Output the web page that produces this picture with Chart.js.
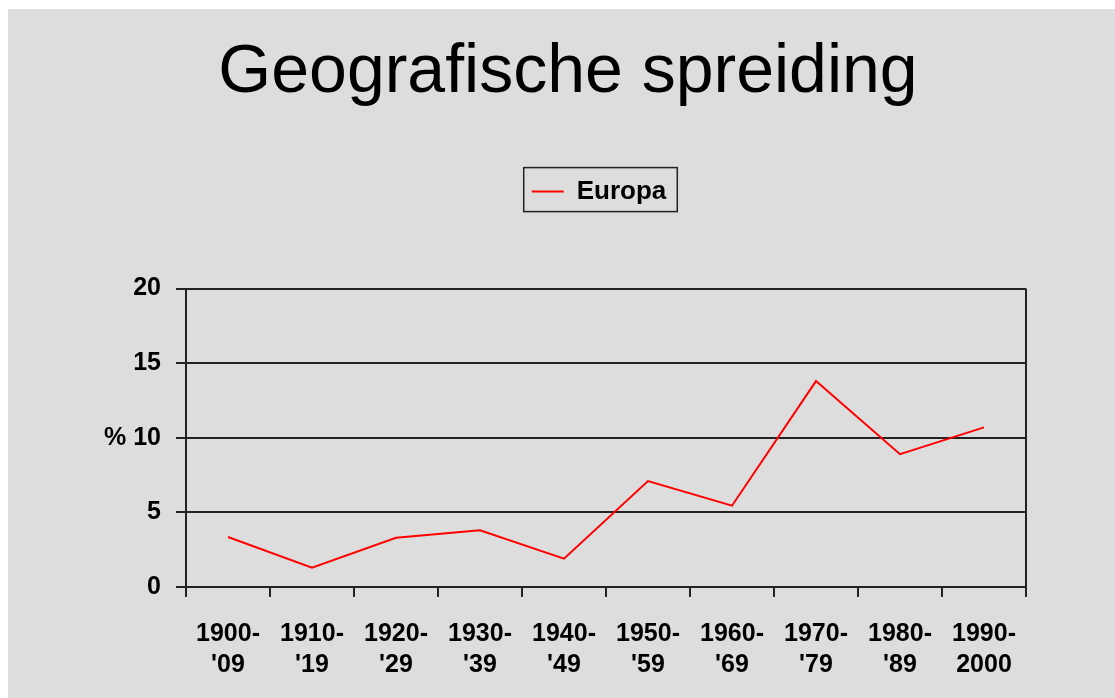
<!DOCTYPE html>
<html>
<head>
<meta charset="UTF-8">
<title>Geografische spreiding</title>
<script src="https://cdn.jsdelivr.net/npm/chart.js"></script>
<style>
  html, body { margin: 0; overflow: hidden; background-color: #ffffff; font-family: 'Liberation Sans', Arial, sans-serif; }
  .slide {
    position: absolute;
    left: 8px;
    top: 9px;
    width: 1107px;
    height: 693px;
    background-color: #dddddd;
  }
</style>
</head>
<body>
<div class="slide"><canvas id="chart"></canvas></div>
<script>
const periods = [
  ['1900-', "'09"], ['1910-', "'19"], ['1920-', "'29"], ['1930-', "'39"], ['1940-', "'49"],
  ['1950-', "'59"], ['1960-', "'69"], ['1970-', "'79"], ['1980-', "'89"], ['1990-', '2000']
];
const europa = [3.35, 1.3, 3.3, 3.8, 1.9, 7.1, 5.45, 13.8, 8.9, 10.7];
const yTicks = [0, 5, 10, 15, 20];

// legend gets a frame and some extra room below it, like the old Excel chart
const legendFrame = {
  id: 'legendFrame',
  afterInit(chart) {
    const fit = chart.legend.fit;
    chart.legend.fit = function () {
      fit.call(this);
      this.height += 74;
    };
  },
  afterLayout(chart) {
    // nudge title and legend to where the slide has them
    chart.titleBlock.left += 5;
    chart.titleBlock.right += 5;
    chart.legend.left -= 7;
    chart.legend.right -= 7;
  },
  afterDraw(chart) {
    const hb = chart.legend.legendHitBoxes[0];
    if (!hb) return;
    const ctx = chart.ctx;
    ctx.save();
    ctx.strokeStyle = '#222';
    ctx.lineWidth = 1.5;
    ctx.strokeRect(hb.left - 8, hb.top - 11, hb.width + 19, hb.height + 18);
    // right edge of the plot box
    const a = chart.chartArea;
    ctx.lineWidth = 2;
    ctx.beginPath();
    ctx.moveTo(a.right, a.top);
    ctx.lineTo(a.right, a.bottom);
    ctx.stroke();
    ctx.restore();
  }
};

new Chart(document.getElementById('chart').getContext('2d'), {
  type: 'line',
  data: {
    labels: periods,
    datasets: [{
      label: 'Europa',
      data: europa,
      borderColor: '#ff0000',
      backgroundColor: '#ff0000',
      borderWidth: 2,
      pointRadius: 0,
      tension: 0
    }]
  },
  options: {
    responsive: true,
    maintainAspectRatio: false,
    animation: false,
    layout: { padding: { left: 92, right: 89, top: 0, bottom: 0 } },
    plugins: {
      title: {
        display: true,
        text: 'Geografische spreiding',
        color: '#000',
        font: { family: 'Liberation Sans', size: 68, weight: 'normal' },
        padding: { top: 23, bottom: 55 }
      },
      legend: {
        fullSize: false,
        labels: {
          color: '#000',
          font: { family: 'Liberation Sans', size: 26, weight: 'bold' },
          usePointStyle: true,
          pointStyle: 'line',
          pointStyleWidth: 32,
          padding: 10
        }
      },
      tooltip: { enabled: false }
    },
    scales: {
      x: {
        offset: true,
        grid: { offset: true, drawOnChartArea: false, color: '#222', lineWidth: 2, tickLength: 10 },
        border: { color: '#222', width: 2 },
        ticks: {
          color: '#000',
          maxRotation: 0,
          autoSkip: false,
          padding: 22,
          font: { family: 'Liberation Sans', size: 25, weight: 'bold', lineHeight: 1.22 }
        }
      },
      y: {
        min: yTicks[0],
        max: yTicks[yTicks.length - 1],
        afterFit(scale) { scale.width = 86; },
        afterBuildTicks(scale) { scale.ticks = yTicks.map(v => ({ value: v })); },
        grid: { color: '#222', lineWidth: 2, tickLength: 10 },
        border: { color: '#222', width: 2 },
        ticks: {
          color: '#000',
          padding: 15,
          font: { family: 'Liberation Sans', size: 25, weight: 'bold' },
          callback: v => v === 10 ? '% 10' : v
        }
      }
    }
  },
  plugins: [legendFrame]
});
</script>
</body>
</html>
